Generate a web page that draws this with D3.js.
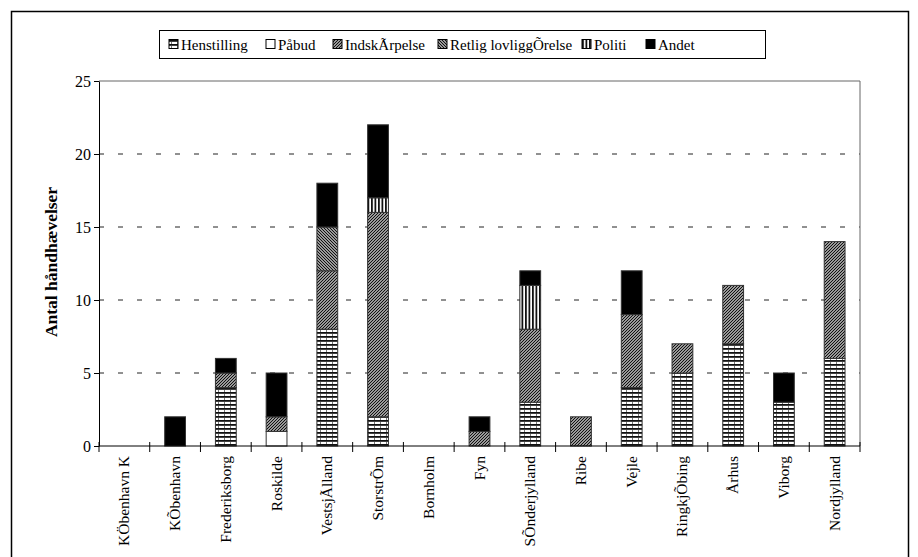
<!DOCTYPE html>
<html><head><meta charset="utf-8">
<script src="https://cdn.jsdelivr.net/npm/d3@7"></script>
<style>body{margin:0;background:#fff}svg{display:block}svg text{font-family:"Liberation Serif","Times New Roman",serif}</style>
</head><body>
<svg id="c" width="918" height="557"></svg>
<script>
const categories = ["KÖbenhavn K","KÕbenhavn","Frederiksborg","Roskilde","VestsjÃlland","StorstrÕm","Bornholm","Fyn","SÕnderjylland","Ribe","Vejle","RingkjÕbing","Århus","Viborg","Nordjylland"];
const seriesNames = ["Henstilling","Påbud","IndskÃrpelse","Retlig lovliggÕrelse","Politi","Andet"];
const henstilling = [0,0,4,0,8,2,0,0,3,0,4,5,7,3,6];
const paabud      = [0,0,0,1,0,0,0,0,0,0,0,0,0,0,0];
const indsk       = [0,0,1,1,4,14,0,1,5,2,5,2,4,0,8];
const retlig      = [0,0,0,0,3,0,0,0,0,0,0,0,0,0,0];
const politi      = [0,0,0,0,0,1,0,0,3,0,0,0,0,0,0];
const andet       = [0,2,1,3,3,5,0,1,1,0,3,0,0,2,0];
const yTicks = [0,5,10,15,20,25];

const seriesValues = [henstilling,paabud,indsk,retlig,politi,andet];
const fills = ["url(#pH)","#fff","url(#pI)","url(#pR)","url(#pP)","#000"];

const svg = d3.select("#c");
const font = '"Liberation Serif","Times New Roman",serif';
const defs = svg.append("defs");
let p = defs.append("pattern").attr("id","pH").attr("width",6).attr("height",4).attr("patternUnits","userSpaceOnUse");
p.append("rect").attr("width",6).attr("height",4).attr("fill","#fff");
p.append("rect").attr("y",0).attr("width",6).attr("height",1.8).attr("fill","#111");
p.append("rect").attr("x",2).attr("y",2).attr("width",1).attr("height",2).attr("fill","#777");
p = defs.append("pattern").attr("id","pI").attr("width",3).attr("height",3).attr("patternUnits","userSpaceOnUse");
p.append("rect").attr("width",3).attr("height",3).attr("fill","#999");
p.append("path").attr("d","M0,3 L3,0 M-1,1 L1,-1 M2,4 L4,2").attr("stroke","#111").attr("stroke-width",1);
p = defs.append("pattern").attr("id","pR").attr("width",3).attr("height",3).attr("patternUnits","userSpaceOnUse");
p.append("rect").attr("width",3).attr("height",3).attr("fill","#999");
p.append("path").attr("d","M0,0 L3,3 M-1,2 L1,4 M2,-1 L4,1").attr("stroke","#111").attr("stroke-width",1);
p = defs.append("pattern").attr("id","pP").attr("width",3.5).attr("height",4).attr("patternUnits","userSpaceOnUse");
p.append("rect").attr("width",3.5).attr("height",4).attr("fill","#fff");
p.append("rect").attr("width",1.8).attr("height",4).attr("fill","#111");

svg.append("rect").attr("x",11.5).attr("y",11.5).attr("width",897).attr("height",560).attr("fill","none").attr("stroke","#000").attr("stroke-width",1.5);

const pLeft = 99, pRight = 860, pTop = 81, pBottom = 446;
const x = d3.scaleBand().domain(categories).range([pLeft,pRight]).paddingInner(0.59).paddingOuter(0.295);
const xb = d3.scaleBand().domain(categories).range([pLeft,pRight]);
const y = d3.scaleLinear().domain([0,25]).range([pBottom,pTop]);

svg.append("g").selectAll("line").data(yTicks.filter(t=>t>0 && t<25)).join("line")
  .attr("x1",pLeft).attr("x2",pRight).attr("y1",d=>y(d)).attr("y2",d=>y(d))
  .attr("stroke","#222").attr("stroke-width",1).attr("stroke-dasharray","5,14");

svg.append("path").attr("d",`M${pLeft},${pTop}H${pRight}V${pBottom}`).attr("fill","none").attr("stroke","#666").attr("stroke-width",1);

const rows = categories.map((c,i)=>{const o={cat:c}; seriesNames.forEach((s,j)=>o[s]=seriesValues[j][i]); return o;});
const stack = d3.stack().keys(seriesNames)(rows);
stack.forEach((layer,j)=>{
  svg.append("g").selectAll("rect").data(layer.filter(d=>d[1]-d[0]>0)).join("rect")
    .attr("x",d=>x(d.data.cat)).attr("width",x.bandwidth())
    .attr("y",d=>y(d[1])).attr("height",d=>y(d[0])-y(d[1]))
    .attr("fill",fills[j]).attr("stroke","#333").attr("stroke-width",1);
});

const ya = d3.axisLeft(y).tickValues(yTicks).tickSize(5).tickSizeOuter(0);
const gy = svg.append("g").attr("transform",`translate(${pLeft},0)`).call(ya).attr("font-family",null);
gy.select(".domain").attr("stroke","#000");
gy.selectAll(".tick line").attr("stroke","#000");
gy.selectAll("text").style("font-family",font).attr("font-size",16).attr("fill","#000").attr("x",-8);

svg.append("line").attr("x1",pLeft).attr("x2",pRight).attr("y1",pBottom).attr("y2",pBottom).attr("stroke","#000");
const bounds = categories.map(c=>xb(c)).concat([pRight]);
svg.append("g").selectAll("line").data(bounds).join("line")
  .attr("x1",d=>d).attr("x2",d=>d).attr("y1",pBottom-4).attr("y2",pBottom+6).attr("stroke","#000");
svg.append("g").selectAll("text").data(categories).join("text")
  .attr("transform",d=>`translate(${xb(d)+xb.bandwidth()/2+5},${pBottom+10}) rotate(-90)`)
  .attr("text-anchor","end").style("font-family",font).attr("font-size",15.5).text(d=>d);

svg.append("text").attr("transform","translate(57,262) rotate(-90)").attr("text-anchor","middle")
  .style("font-family",font).attr("font-size",17.5).attr("font-weight","bold").text("Antal håndhævelser");

svg.append("rect").attr("x",159.5).attr("y",30.5).attr("width",606).attr("height",28).attr("fill","#fff").attr("stroke","#000");
const lx = [169,266,333,438,582,646];
const lg = svg.append("g").selectAll("g").data(seriesNames).join("g").attr("transform",(d,i)=>`translate(${lx[i]},0)`);
lg.append("rect").attr("x",0).attr("y",39.5).attr("width",9).attr("height",9).attr("fill",(d,i)=>fills[i]).attr("stroke","#000");
lg.append("text").attr("x",12).attr("y",50).style("font-family",font).attr("font-size",15).text(d=>d);
</script>
</body></html>
